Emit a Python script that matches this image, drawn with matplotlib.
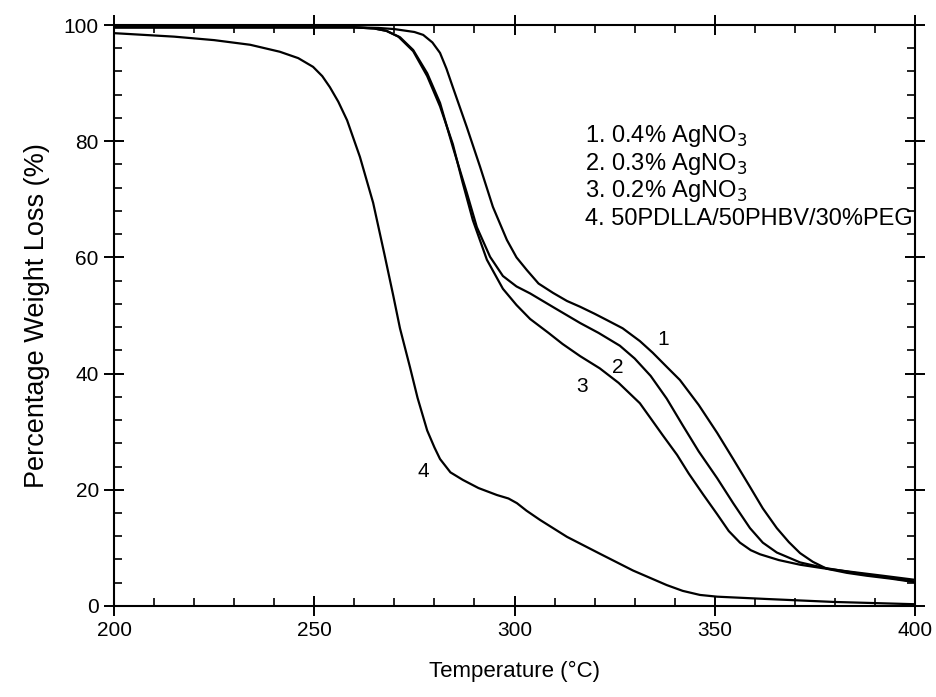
import numpy as np
import matplotlib.pyplot as plt
from matplotlib.ticker import MultipleLocator

plt.rcParams['font.family'] = ['Liberation Sans', 'DejaVu Sans']

# curve 1: 0.4% AgNO3
t1 = [200, 260, 266, 270, 273, 275, 277.2, 279.5, 281.4, 283, 284.6, 288.1, 291.4, 294.6, 298.1,
      300.5, 303.1, 306, 309.6, 313.1, 316.4, 320, 323.1, 327, 331.3, 334.5, 338.1, 341.3, 346,
      350.6, 354.6, 358.8, 362, 365.5, 368.5, 371.3, 374.5, 378, 383, 388, 394, 400]
w1 = [99.6, 99.6, 99.5, 99.3, 99.0, 98.8, 98.3, 97.0, 95.2, 92.5, 89.3, 82.4, 75.6, 68.7, 63.0,
      60.0, 57.8, 55.5, 53.9, 52.5, 51.5, 50.3, 49.2, 47.8, 45.6, 43.6, 41.1, 38.9, 34.6,
      29.8, 25.3, 20.5, 16.8, 13.4, 11.0, 9.1, 7.6, 6.4, 5.7, 5.2, 4.7, 4.1]

# curve 2: 0.3% AgNO3
t2 = [200, 260, 265, 268, 271.4, 274.7, 278.2, 281.4, 284.6, 288.1, 290.6, 293.9, 297.1, 300.5,
      303.9, 310, 316.4, 321, 326.3, 330, 334, 338, 342, 346, 350.6, 354.6, 358.8, 362, 365.5,
      371.3, 377, 385, 392, 400]
w2 = [99.6, 99.6, 99.4, 99.0, 97.9, 95.7, 91.7, 86.6, 79.0, 71.1, 65.2, 60.1, 56.8, 55.0,
      53.8, 51.3, 48.7, 47.0, 44.8, 42.6, 39.6, 35.7, 31.1, 26.6, 22.0, 17.7, 13.4, 10.9, 9.2,
      7.5, 6.6, 5.7, 5.0, 4.2]

# curve 3: 0.2% AgNO3
t3 = [200, 260, 265, 268, 271, 274.7, 278.2, 281.4, 284.6, 287, 289.6, 293.1, 297.1, 300.5,
      303.9, 308.5, 312, 316.4, 321.3, 326, 331.3, 334, 337, 340.6, 343.5, 347.1, 350.6, 353.5,
      356.3, 359, 361.3, 366, 371.3, 377, 383.8, 392, 400]
w3 = [99.6, 99.6, 99.4, 99.0, 98.0, 95.5, 91.2, 86.0, 79.5, 73.0, 66.4, 59.6, 54.6, 51.8,
      49.4, 47.0, 45.1, 43.0, 40.9, 38.4, 34.9, 32.3, 29.4, 26.0, 22.8, 19.2, 15.8, 12.9,
      10.9, 9.6, 8.9, 7.9, 7.1, 6.5, 5.9, 5.2, 4.5]

# curve 4: 50PDLLA/50PHBV/30%PEG
t4 = [200, 215, 225, 234, 241.4, 246, 249.7, 252, 253.9, 256, 258.2, 261.4, 264.7, 267.5, 269.7,
      271.4, 273.9, 275.8, 278.2, 280, 281.4, 284, 287.1, 291, 295.6, 298.5, 300.6, 303, 306.4,
      313.1, 321.3, 329.6, 338, 342, 346.3, 350.6, 363, 379.5, 400]
w4 = [98.6, 98.0, 97.4, 96.6, 95.4, 94.3, 92.8, 91.2, 89.3, 86.8, 83.6, 77.3, 69.4, 60.6, 53.5,
      47.8, 41.1, 35.8, 30.2, 27.3, 25.3, 23.0, 21.7, 20.3, 19.1, 18.5, 17.7, 16.4, 14.8,
      11.9, 9.0, 6.1, 3.6, 2.6, 1.9, 1.6, 1.2, 0.7, 0.3]

curve_labels = ['1', '2', '3', '4']
label_t = [337.1, 325.8, 316.9, 277.2]
label_w = [45.8, 41.0, 37.7, 23.2]

legend_lines = ['1. 0.4% AgNO$_3$', '2. 0.3% AgNO$_3$', '3. 0.2% AgNO$_3$',
                '4. 50PDLLA/50PHBV/30%PEG']

fig = plt.figure(figsize=(9.37, 6.97), dpi=100)
ax = fig.add_axes([0.1217, 0.1306, 0.8548, 0.8335])

for t, w in [(t1, w1), (t2, w2), (t3, w3), (t4, w4)]:
    ax.plot(t, w, color='black', lw=1.6, solid_joinstyle='round')

for s, t, w in zip(curve_labels, label_t, label_w):
    ax.text(t, w, s, fontsize=15, ha='center', va='center')

for i, s in enumerate(legend_lines):
    ax.text(317.6, 80.9 - i * 4.77, s, fontsize=17, ha='left', va='center')

ax.set_xlim(200, 400)
ax.set_ylim(0, 100)
ax.xaxis.set_major_locator(MultipleLocator(50))
ax.xaxis.set_minor_locator(MultipleLocator(10))
ax.yaxis.set_major_locator(MultipleLocator(20))
ax.yaxis.set_minor_locator(MultipleLocator(4))
ax.tick_params(which='major', direction='inout', length=14, width=1.4, labelsize=15,
               top=True, right=True, pad=4)
ax.tick_params(which='minor', direction='in', length=6, width=1.2, top=True, right=True)
for sp in ax.spines.values():
    sp.set_linewidth(1.5)

ax.set_xlabel('Temperature (°C)', fontsize=16, labelpad=15)
ax.set_ylabel('Percentage Weight Loss (%)', fontsize=19.5, labelpad=10)

fig.savefig('out.png', dpi=100)
